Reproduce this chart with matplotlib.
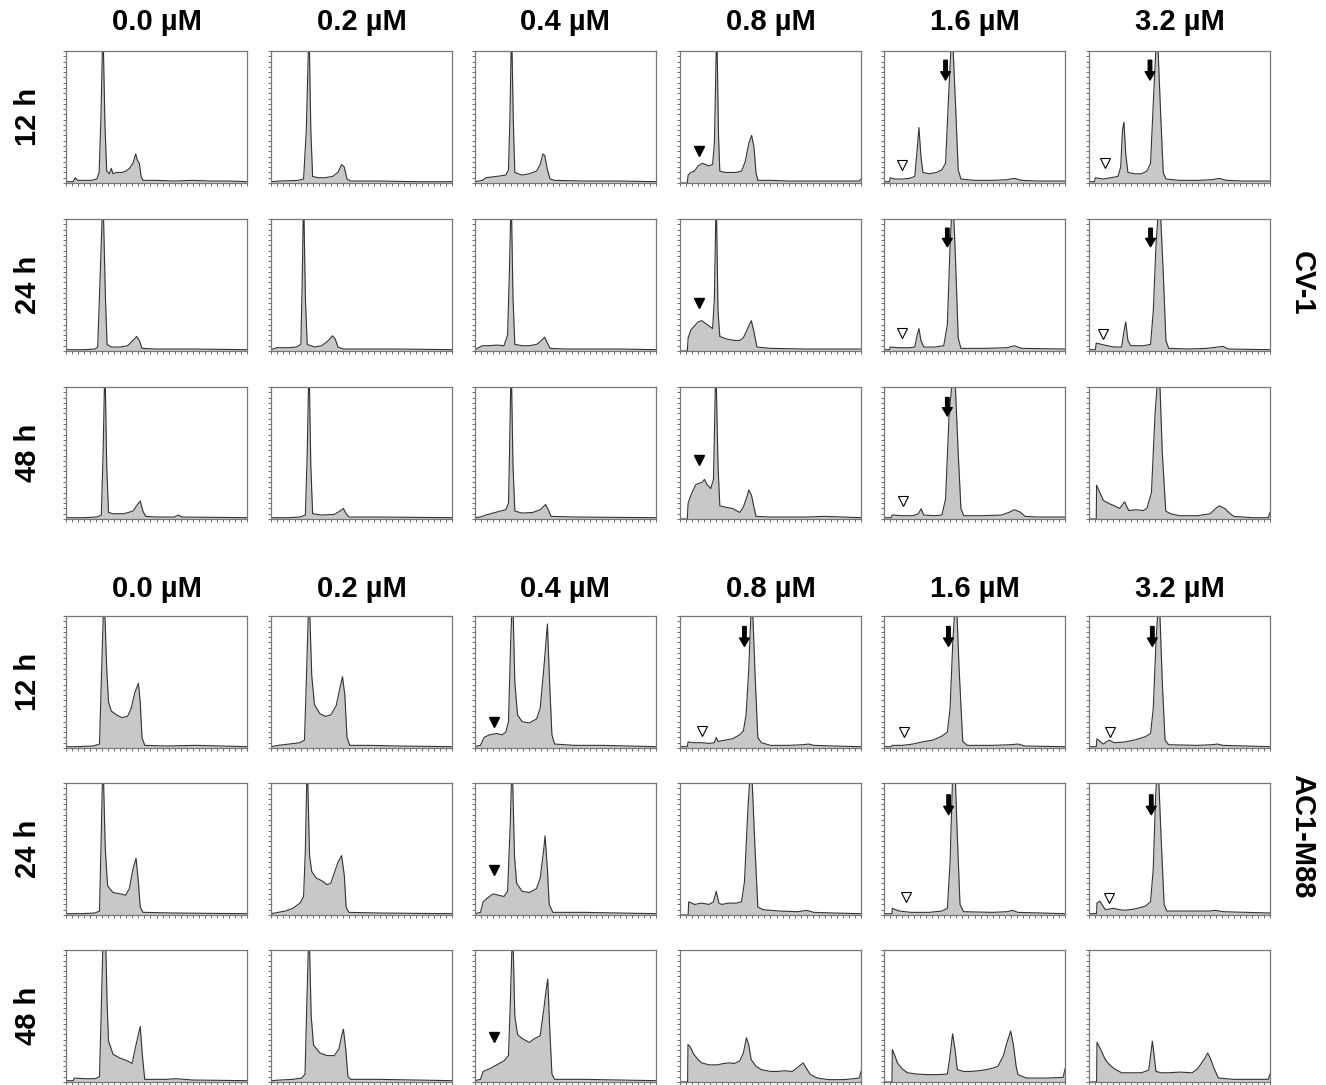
import matplotlib.pyplot as plt
import numpy as np

plt.rcParams['font.family'] = ['Liberation Sans', 'DejaVu Sans']

# ------------------------------------------------
# Labels
# ------------------------------------------------
concentrations = ["0.0 µM", "0.2 µM", "0.4 µM", "0.8 µM", "1.6 µM", "3.2 µM"]
times = ["12 h", "24 h", "48 h"]
cell_lines = ["CV-1", "AC1-M88"]

# ------------------------------------------------
# Histogram traces: (DNA channel %, count % of panel height)
# one list per row, one trace per concentration
# ------------------------------------------------
cv1_12h = [
    [(0, 1), (4, 1), (5, 4), (6.5, 2), (10, 2), (14, 2), (17, 3), (18.3, 8), (19.3, 50), (20.4, 120), (21.5, 45),
     (22.5, 9), (24, 7), (25, 11), (26, 7), (28, 8), (31, 8), (33, 9), (35, 11), (37, 15), (38.5, 22), (39.5, 17),
     (40.5, 15), (41.5, 5), (42.5, 2), (50, 2), (60, 1.5), (70, 2), (80, 1.5), (90, 1.5), (100, 1)],
    [(0, 1), (5, 1.5), (15, 2), (18, 3), (19.5, 40), (21, 120), (22, 40), (23, 5), (26, 4), (30, 4), (34, 5),
     (37, 8), (39, 14), (40.5, 12), (42, 3), (44, 1.5), (60, 1.5), (80, 1), (100, 1)],
    [(0, 1), (4, 2), (6, 4), (12, 5), (17, 6), (18.5, 10), (19.3, 50), (20.2, 120), (21.2, 45), (22, 8), (26, 6),
     (30, 7), (34, 9), (36, 14), (37.5, 22), (38.5, 21), (40, 10), (41.5, 3), (44, 2), (60, 1.5), (80, 1.5), (100, 1)],
    [(0, 0), (4, 0), (4.5, 6), (6, 8), (8, 9), (10, 13), (12.5, 15), (14, 14), (16, 13), (18, 14), (19, 30),
     (20.3, 120), (21.3, 35), (22, 9), (25, 8), (28, 8), (31, 8), (34, 9), (36, 16), (38, 30), (39.6, 36),
     (40.8, 28), (42, 8), (43, 2), (50, 2), (60, 1.5), (80, 1.5), (99, 1.5), (100, 3)],
    [(0, 1), (3, 1), (3.5, 4), (6, 3), (10, 3), (14, 3.5), (17, 5), (18.3, 25), (19.3, 42), (20.4, 20), (21.5, 8),
     (25, 7), (29, 8), (32, 10), (34, 15), (35.5, 60), (37.6, 120), (39.5, 60), (41, 10), (42.5, 3), (50, 2),
     (60, 2), (68, 2.5), (72, 3.5), (76, 2), (85, 1.5), (100, 1.5)],
    [(0, 1), (3, 1), (3.5, 4), (8, 3), (12, 4), (16, 5), (17.5, 12), (18.5, 40), (19.3, 46), (20.3, 22), (21.5, 8),
     (25, 7), (29, 7), (32, 9), (34, 15), (35.5, 60), (37.6, 120), (39.5, 55), (41, 8), (42.5, 3), (50, 2),
     (60, 2), (68, 2.5), (72, 3.5), (76, 2), (85, 1.5), (100, 1.5)],
]

cv1_24h = [
    [(0, 1), (10, 1), (16, 1.5), (17.5, 3), (18.7, 50), (20.4, 120), (21.8, 40), (22.7, 5), (25, 3), (30, 3),
     (34, 4), (37, 8), (39, 11), (40.5, 8), (42, 2), (50, 1.5), (70, 1.5), (100, 1)],
    [(0, 1), (3, 2.5), (10, 2.5), (14, 3), (16.5, 5), (17.2, 50), (18, 120), (19, 40), (20, 5), (24, 3), (28, 4),
     (31, 7), (34, 11.5), (35.5, 9), (37, 3), (40, 1.5), (50, 1.5), (70, 1.5), (100, 1)],
    [(0, 1), (4, 4), (8, 4), (12, 4.5), (16, 4), (18, 12), (19, 60), (20, 120), (21, 40), (22, 5), (26, 4),
     (30, 4), (34, 5), (36, 7), (38.5, 10.5), (40, 6), (41.5, 2), (50, 1.5), (80, 1.5), (100, 1)],
    [(0, 0), (4, 0), (4.5, 10), (6, 16), (8, 19), (10, 22), (12, 23), (14, 21), (16, 19), (18, 17), (19, 40),
     (20, 120), (21, 30), (22, 11), (26, 9), (30, 8), (33, 8), (35, 10), (37, 16), (39.4, 23), (40.8, 15),
     (42.5, 3), (50, 2), (70, 1.5), (100, 1.5)],
    [(0, 1), (3, 1), (3.5, 3), (8, 2.5), (14, 2.5), (17, 3), (18.3, 12), (19.3, 17), (20.4, 8), (22, 3), (28, 3),
     (33, 4), (35, 20), (36.5, 80), (38, 120), (39.5, 70), (41, 10), (42.5, 2), (55, 2), (68, 2.5), (72, 4),
     (76, 2), (100, 1.5)],
    [(0, 1), (3.5, 1), (4, 6), (7, 5), (10, 4), (14, 3), (18, 3), (19.2, 14), (20.3, 22), (21.5, 8), (23, 4),
     (30, 4), (34, 5), (35.5, 30), (37, 80), (39, 120), (41, 60), (42.5, 8), (44, 2), (55, 1.5), (65, 2),
     (71, 3), (74, 3.5), (77, 1.5), (100, 1)],
]

cv1_48h = [
    [(0, 1), (10, 1), (17, 1.5), (19.5, 3), (20.5, 50), (21.5, 120), (22.5, 40), (23.5, 5), (26, 4), (32, 4),
     (37, 6), (39.5, 11), (41, 13.6), (42.5, 6), (44, 2), (50, 1.5), (60, 1.5), (62, 3), (64, 1.5), (100, 1)],
    [(0, 1), (10, 1), (16, 1.5), (19, 3), (20, 50), (21, 120), (22, 40), (23, 4), (28, 3), (35, 3.5), (38, 6),
     (40, 8), (41.5, 4), (43, 1.5), (60, 1.5), (100, 1)],
    [(0, 1), (3, 1.5), (6, 3), (10, 4.5), (14, 6), (17, 7), (18.5, 12), (19.2, 60), (20, 120), (21, 40), (22, 6),
     (26, 4.5), (32, 5), (36, 7), (39, 11), (40.5, 7), (42, 2), (55, 1.5), (100, 1)],
    [(0, 0), (4, 0), (4.5, 12), (6, 18), (8.7, 26), (10.5, 27), (12.4, 28), (13.5, 30), (15, 26), (17, 23),
     (18.5, 30), (19.8, 120), (21, 40), (22, 10), (25, 9), (29, 8), (33, 5), (35, 9), (37, 17), (38, 22),
     (39.5, 18), (41, 8), (42, 2), (50, 1.5), (70, 1.5), (80, 2), (90, 1.5), (100, 1)],
    [(0, 1), (4, 1), (4.5, 3), (10, 2.5), (16, 2.5), (19, 4), (20.5, 7.7), (22, 3), (28, 2.5), (32, 3), (34, 15),
     (36, 80), (38.8, 120), (41, 50), (42.5, 8), (44, 2.5), (55, 2.5), (65, 3), (69, 5), (72, 7), (75, 5.5),
     (78, 2), (85, 1.5), (100, 1.5)],
    [(0, 0), (4, 0), (4.2, 25.6), (6, 20), (8, 14), (11.4, 11.5), (14, 10), (17, 8), (18.5, 11), (19.7, 13),
     (21, 9), (22, 6.4), (26, 7), (30, 6.4), (32, 8), (34.5, 20), (36.5, 80), (38.7, 120), (40.5, 50),
     (42.4, 6), (45, 4), (50, 2.5), (60, 2.5), (67, 4), (70, 8), (72, 10), (75, 8), (78, 4), (80, 2), (90, 1),
     (99, 1), (100, 5)],
]

ac1_12h = [
    [(0, 1), (5, 1), (15, 1.5), (18.5, 3), (19.5, 50), (21, 120), (22.5, 60), (23.5, 35), (25, 28), (28, 25),
     (31, 23), (34, 24), (36, 30), (38, 42), (40, 49), (41, 35), (42, 8), (43.5, 2), (55, 1.5), (72, 2), (100, 1)],
    [(0, 1), (4, 2), (10, 3), (16, 4), (18.5, 6), (19.5, 50), (21, 120), (22.5, 55), (24, 33), (27, 26), (30, 24),
     (33, 25), (36, 32), (38, 45), (39.5, 54), (40.8, 40), (42, 8), (43.5, 2), (55, 2), (70, 1.5), (100, 1)],
    [(0, 1), (3, 2), (5, 8), (8, 10), (12, 11), (15, 10), (17, 12), (18.5, 20), (19.7, 80), (20.8, 120), (22, 50),
     (23.5, 25), (26, 20), (30, 19), (34, 22), (36, 30), (38, 60), (40, 94), (41.2, 50), (42.5, 10), (44, 3),
     (55, 2), (70, 2), (100, 1)],
    [(0, 1), (4, 1), (4.5, 4.6), (8, 4), (12, 4), (16, 3.5), (19, 4), (20, 8), (21, 5), (25, 6), (29, 7),
     (33, 10), (35, 13), (36.5, 25), (38, 60), (39.7, 120), (41.5, 55), (43, 8), (45, 4), (50, 2), (60, 2),
     (68, 2.5), (71, 3), (74, 2), (85, 1.5), (100, 1)],
    [(0, 1), (4, 1), (4.5, 2), (10, 2), (16, 3), (21, 4.6), (27, 6), (32, 9), (35, 12), (36.5, 30), (38, 80),
     (39.8, 120), (41.5, 60), (43.5, 5), (46, 2), (60, 2), (70, 2.5), (74, 3), (78, 1.5), (100, 1)],
    [(0, 1), (4, 1), (4.4, 7), (6, 5), (8, 3), (11, 6), (14, 4), (20, 4.6), (25, 6), (31, 8.5), (34, 11),
     (35.5, 30), (37, 80), (38.7, 120), (40.5, 50), (42, 6), (44, 2.5), (60, 2), (68, 2.5), (71, 3), (74, 2),
     (100, 1)],
]

ac1_24h = [
    [(0, 1), (8, 1), (16, 1.5), (18.5, 3), (19.3, 50), (20.4, 120), (21.7, 50), (23, 22), (26, 17), (30, 16),
     (33, 15), (35, 20), (37, 35), (38.7, 43), (40, 25), (41, 6), (42.5, 2), (60, 1.5), (100, 1)],
    [(0, 1), (4, 2), (8, 3), (12, 5), (16, 9), (18, 14), (19, 50), (20, 120), (21.3, 45), (22.5, 33), (25, 28),
     (28, 26), (31, 23), (33, 24), (35, 32), (37, 40), (39, 45), (40.5, 30), (41.5, 6), (43, 2), (60, 1.5),
     (100, 1)],
    [(0, 1), (3, 2), (4.5, 10), (7, 13), (10, 16), (13, 15), (16, 14), (18, 18), (19.5, 70), (20.5, 120),
     (21.8, 45), (23, 24), (26, 18), (30, 17), (34, 20), (36, 28), (38, 50), (38.7, 60), (40, 35), (41, 8),
     (43, 2), (60, 2), (100, 1)],
    [(0, 0), (4.5, 0), (4.8, 10), (8, 8), (12, 9), (16, 8), (18.5, 10), (20, 18), (21.5, 9), (23, 8), (27, 9),
     (31, 9), (34, 10), (35.6, 25), (37.5, 80), (39.3, 120), (41.3, 55), (43, 6), (46, 4), (55, 3), (65, 2.5),
     (70, 3.5), (74, 2), (85, 1.5), (100, 1)],
    [(0, 1), (4.4, 1), (4.6, 5), (8.5, 3), (15, 2), (25, 2), (32, 3), (35, 5), (36.5, 40), (37.8, 100),
     (39, 120), (40.5, 60), (42, 8), (44, 2.5), (60, 2), (68, 2.5), (71, 3.5), (74, 2), (100, 1)],
    [(0, 1), (4.2, 1), (4.4, 9), (6, 10.5), (9, 4), (13.5, 5), (17, 4), (20, 3.6), (25, 4.5), (31, 6.6),
     (34, 10), (35.5, 35), (36.8, 90), (38, 120), (39.8, 60), (41.5, 8), (43, 3), (55, 3), (66, 3), (70, 3.5),
     (74, 2.5), (100, 1.5)],
]

ac1_48h = [
    [(0, 1), (4, 1), (4.6, 3), (10, 2.5), (16, 2.5), (18.5, 4), (19.4, 50), (20.5, 110), (21.7, 120),
     (22.7, 60), (23.5, 31), (26, 21), (30, 18), (34, 16), (36.5, 14), (38.5, 27), (41, 42), (42.2, 20),
     (43.5, 2), (55, 2), (61, 2.5), (70, 1.5), (100, 1)],
    [(0, 1), (5, 1.5), (12, 2), (17, 3), (18.8, 6), (19.8, 60), (21, 120), (22.2, 50), (23.5, 28), (27, 22),
     (31, 20), (35, 20), (37.5, 25), (39, 35), (40, 40), (41.3, 25), (42.5, 4), (44, 2), (60, 2), (100, 1)],
    [(0, 1), (3, 2), (4.5, 8), (8, 10), (12, 13), (16, 16), (18.5, 20), (19.5, 60), (20.8, 120), (22, 50),
     (23.5, 36), (26, 33), (30, 30), (33, 33), (36, 35), (38, 55), (39.5, 72), (40.2, 78), (41.3, 40),
     (42.5, 6), (44, 2), (60, 2), (100, 1)],
    [(0, 0), (4.2, 0), (4.4, 28.4), (5.5, 27), (7.6, 21), (10, 17), (12, 14.5), (16, 13), (20.7, 13), (24, 14),
     (27, 14.5), (30, 14), (33, 16), (35, 22), (36.7, 33.5), (38, 28), (39.3, 17), (42, 12), (44.8, 9.4),
     (50, 8), (53.5, 8), (58, 8.5), (62, 8), (65, 11), (68, 14.5), (70, 10), (72, 5.6), (76, 3), (82, 1.8),
     (90.6, 1.8), (96, 2.5), (99, 3), (100, 8)],
    [(0, 0), (4.4, 0), (4.6, 24.6), (6, 20), (7.4, 14.5), (10, 10), (13, 7), (18, 6), (24, 5.6), (30, 5.6),
     (35, 6), (36.5, 20), (37.9, 36.5), (39.2, 25), (40.5, 9.4), (44, 8), (48, 8), (52, 8.5), (56.7, 9.4),
     (60, 10.5), (63, 12), (66, 20), (67.6, 28.4), (70, 38.6), (71.5, 28), (73, 12), (74, 5.6), (78.6, 3),
     (90, 3), (99, 3.5), (100, 10)],
    [(0, 0), (4.2, 0), (4.4, 30), (6, 26), (7, 23), (9, 17), (11.4, 13), (14, 10), (18, 7), (24, 7), (29, 7),
     (33, 9), (34, 20), (35, 31), (36, 20), (37, 8), (40, 7), (44, 7), (50, 7.5), (57, 7), (60, 10),
     (61.5, 13), (64, 18), (65.6, 22), (67, 18), (69, 10.6), (71.5, 3), (80, 2), (90, 2), (99, 2), (100, 6)],
]

rows_data = [cv1_12h, cv1_24h, cv1_48h, ac1_12h, ac1_24h, ac1_48h]

# marker annotations: (row, col, x %, y %)
filled_marks = [(0, 3, 10.5, 24), (1, 3, 10.5, 36), (2, 3, 10.5, 45),
                (3, 2, 10.5, 20), (4, 2, 10.5, 34), (5, 2, 10.5, 34)]
open_marks = [(0, 4, 10, 14), (0, 5, 9, 15), (1, 4, 10, 14), (1, 5, 8, 13), (2, 4, 10.5, 14),
              (3, 3, 12.4, 13), (3, 4, 11, 12), (3, 5, 11.4, 12), (4, 4, 12, 13.5), (4, 5, 11, 13)]
# arrows: (row, col, x %, tail y %, head y %)
arrows = [(0, 4, 34, 93, 78), (0, 5, 33.7, 93, 78), (1, 4, 35, 93, 79), (1, 5, 34, 93, 79),
          (2, 4, 35, 92, 78), (3, 3, 35.6, 92, 77), (3, 4, 35.6, 92, 77), (3, 5, 35, 92, 77),
          (4, 4, 35.7, 91, 76), (4, 5, 34.4, 91, 76)]

# ------------------------------------------------
# Layout (pixels in a 1326 x 1085 canvas)
# ------------------------------------------------
W, H = 1326, 1085
col_left = [66, 271, 475, 680, 884, 1089]
row_top = [51, 219, 387, 616, 783, 950]
pw, ph = 181, 132

fig = plt.figure(figsize=(W / 100, H / 100), dpi=100)

axes = {}
for r in range(6):
    for c in range(6):
        ax = fig.add_axes([col_left[c] / W, 1 - (row_top[r] + ph) / H, pw / W, ph / H])
        pts = np.array(rows_data[r][c])
        ax.fill_between(pts[:, 0], pts[:, 1], color="#c8c8c8", lw=0)
        ax.plot(pts[:, 0], pts[:, 1], color="#333333", lw=0.8)
        ax.set_xlim(0, 100)
        ax.set_ylim(0, 100)
        ax.set_xticks(np.linspace(0, 100, 31))
        ax.set_yticks(np.linspace(0, 100, 26))
        ax.tick_params(direction="out", length=2.5, width=0.6, color="#555555",
                       labelbottom=False, labelleft=False)
        for s in ax.spines.values():
            s.set_color("#777777")
            s.set_linewidth(0.9)
        axes[(r, c)] = ax

for r, c, x, y in filled_marks:
    axes[(r, c)].plot(x, y, marker="v", ms=6.5, color="black", mec="black")
for r, c, x, y in open_marks:
    axes[(r, c)].plot(x, y, marker="v", ms=6.5, mfc="white", mec="black", mew=0.8)
for r, c, x, y0, y1 in arrows:
    axes[(r, c)].annotate("", xy=(x, y1), xytext=(x, y0),
                          arrowprops=dict(facecolor="black", edgecolor="black",
                                          width=2.5, headwidth=7, headlength=6, shrink=0))

# column titles
for top in [22, 589]:
    for c, lab in enumerate(concentrations):
        fig.text((col_left[c] + pw / 2) / W, 1 - top / H, lab, ha="center", va="center",
                 fontsize=21, fontweight="bold")

# row labels
for r in range(6):
    fig.text(28 / W, 1 - (row_top[r] + ph / 2) / H, times[r % 3], rotation=90,
             ha="center", va="center", fontsize=21, fontweight="bold")

# cell line labels
fig.text(1302 / W, 1 - 283 / H, cell_lines[0], rotation=270, ha="center", va="center",
         fontsize=21, fontweight="bold")
fig.text(1302 / W, 1 - 836 / H, cell_lines[1], rotation=270, ha="center", va="center",
         fontsize=21, fontweight="bold")

fig.savefig("out.png", dpi=100)
